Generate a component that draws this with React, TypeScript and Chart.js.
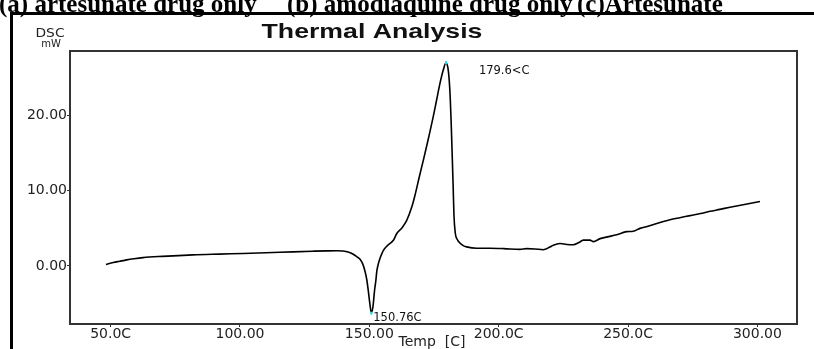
import { useEffect, useRef } from 'react';
import { Chart, registerables } from 'chart.js';

Chart.register(...registerables);

// DSC scan: temperature (°C) and heat flow (mW)
const temperature = [
  48.2, 51, 53.5, 56.2, 59, 62.5, 70, 81.8, 92, 101.2, 110, 120.5, 128, 133.5, 137.5,
  139.8, 141.8, 143.8, 145.2, 146.4, 147.4, 148.3, 149.0, 149.6, 150.2, 150.76, 151.4,
  152.0, 152.5, 152.9, 153.5, 154.1, 154.8, 155.5, 157, 159.3, 160.6, 162.5, 164.4, 166.4,
  167.6, 169.3, 171, 172.7, 174.7, 176.0, 177.3, 178.6, 179.6, 180.4, 180.9, 181.3, 181.6,
  182.0, 182.4, 182.7, 183.2, 184.0, 185.0, 186.3, 187.6, 191.5, 196.6, 202, 208.2, 210.8,
  214, 217.2, 219.8, 221.1, 223.7, 226.3, 228.8, 231, 232.7, 235.3, 236.6, 239.2, 242,
  245.6, 249.5, 252.0, 254.6, 258, 261.1, 266.2, 270, 274.0, 278, 281.7, 285.5, 289.4,
  295, 301.0,
];
const heatFlow = [
  0.2, 0.45, 0.62, 0.8, 0.95, 1.1, 1.27, 1.47, 1.57, 1.65, 1.74, 1.87, 1.95, 2.0, 2.02,
  1.98, 1.85, 1.55, 1.2, 0.9, 0.3, -0.67, -1.8, -3.3, -5.0, -6.2, -5.4, -3.3, -2.0, -0.67,
  0.3, 1.0, 1.6, 2.1, 2.7, 3.4, 4.3, 5.0, 6.0, 7.8, 9.3, 11.8, 14.2, 16.7, 19.8, 22.0, 24.2,
  26.0, 26.9, 26.2, 24.5, 22.0, 19.3, 15.0, 10.5, 6.8, 4.4, 3.5, 3.05, 2.7, 2.53, 2.35,
  2.35, 2.3, 2.2, 2.3, 2.25, 2.15, 2.5, 2.75, 2.97, 2.85, 2.8, 3.1, 3.42, 3.42, 3.22, 3.62,
  3.85, 4.13, 4.55, 4.6, 4.98, 5.3, 5.64, 6.13, 6.4, 6.67, 6.95, 7.24, 7.5, 7.78, 8.15,
  8.55,
];

const xTickValues = [50, 100, 150, 200, 250, 300];
const xTickLabels = ['50.0C', '100.00', '150.00', '200.0C', '250.0C', '300.00'];
const yTickValues = [0, 10, 20];
const yTickLabels = ['0.00', '10.00', '20.00'];

// peak / trough readouts
const peakLabel = '179.6<C';
const troughLabel = '150.76C';

const captionParts = [
  { text: '(a) artesunate drug only', x: -1 },
  { text: '(b) amodiaquine drug only', x: 287 },
  { text: '(c)Artesunate', x: 577 },
];

const chartTitle = 'Thermal Analysis';
const yUnitTop = 'DSC';
const yUnitBottom = 'mW';
const xAxisTitle = 'Temp  [C]';

const decorations = {
  id: 'dscDecorations',
  afterDraw(chart: any) {
    const { ctx, chartArea, scales } = chart;
    const xs = scales.x;
    const ys = scales.y;
    ctx.save();

    // caption strip along the top edge
    ctx.fillStyle = '#000';
    ctx.font = 'bold 25px "Liberation Serif", serif';
    ctx.textBaseline = 'alphabetic';
    ctx.textAlign = 'left';
    for (const p of captionParts) ctx.fillText(p.text, p.x, 12);

    // outer panel edges
    ctx.fillRect(10, 12, 804, 3);
    ctx.fillRect(10, 12, 3, 337);

    // plot frame
    ctx.strokeStyle = '#333';
    ctx.lineWidth = 2;
    ctx.strokeRect(chartArea.left, chartArea.top, chartArea.right - chartArea.left, chartArea.bottom - chartArea.top);

    // title
    ctx.save();
    ctx.font = 'bold 21px "Liberation Sans", Arial, sans-serif';
    ctx.fillStyle = '#111';
    ctx.textAlign = 'center';
    ctx.translate(372, 38);
    ctx.scale(1.27, 1);
    ctx.fillText(chartTitle, 0, 0);
    ctx.restore();

    // y units
    ctx.fillStyle = '#222';
    ctx.textAlign = 'center';
    ctx.save();
    ctx.translate(50, 37);
    ctx.scale(1.15, 1);
    ctx.font = '12px "DejaVu Sans", sans-serif';
    ctx.fillText(yUnitTop, 0, 0);
    ctx.restore();
    ctx.font = '10px "DejaVu Sans", sans-serif';
    ctx.fillText(yUnitBottom, 51, 47);

    // x axis title
    ctx.font = '14px "DejaVu Sans", sans-serif';
    ctx.fillStyle = '#222';
    ctx.fillText(xAxisTitle, 432, 346);

    // peak and trough markers
    let iMax = 0;
    let iMin = 0;
    heatFlow.forEach((v, i) => {
      if (v > heatFlow[iMax]) iMax = i;
      if (v < heatFlow[iMin]) iMin = i;
    });
    const px = xs.getPixelForValue(temperature[iMax]);
    const py = ys.getPixelForValue(heatFlow[iMax]);
    const qx = xs.getPixelForValue(temperature[iMin]);
    const qy = ys.getPixelForValue(heatFlow[iMin]);
    ctx.fillStyle = '#19e0e8';
    ctx.fillRect(px - 1, py - 2, 2, 3);
    ctx.fillRect(qx - 1, qy - 1, 2, 3);
    ctx.fillStyle = '#111';
    ctx.textAlign = 'left';
    ctx.font = '11.5px "DejaVu Sans", sans-serif';
    ctx.fillText(peakLabel, px + 33, py + 11);
    ctx.fillText(troughLabel, qx + 2, qy + 8);

    ctx.restore();
  },
};

export default function App() {
  const canvasRef = useRef<HTMLCanvasElement | null>(null);

  useEffect(() => {
    const canvas = canvasRef.current;
    if (!canvas) return;
    const chart = new Chart(canvas, {
      type: 'line',
      data: {
        datasets: [
          {
            data: temperature.map((t, i) => ({ x: t, y: heatFlow[i] })),
            borderColor: '#000',
            borderWidth: 1.6,
            pointRadius: 0,
            cubicInterpolationMode: 'monotone',
            fill: false,
          },
        ],
      },
      options: {
        responsive: false,
        animation: false,
        devicePixelRatio: 1,
        layout: { padding: { left: 0, top: 51, right: 17, bottom: 0 } },
        plugins: { legend: { display: false }, tooltip: { enabled: false }, title: { display: false } },
        scales: {
          x: {
            type: 'linear',
            min: 34.3,
            max: 315.3,
            afterFit: (s: any) => { s.height = 25; },
            afterBuildTicks: (s: any) => { s.ticks = xTickValues.map((v) => ({ value: v })); },
            grid: { display: true, drawOnChartArea: false, tickLength: 3, color: '#333' },
            border: { display: true, color: '#333', width: 2 },
            ticks: {
              padding: -1,
              maxRotation: 0,
              autoSkip: false,
              color: '#222',
              font: { family: '"DejaVu Sans", sans-serif', size: 14 },
              callback: (v: any) => xTickLabels[xTickValues.indexOf(Number(v))] ?? '',
            },
          },
          y: {
            type: 'linear',
            min: -7.7,
            max: 28.5,
            afterFit: (s: any) => { s.width = 70; },
            afterBuildTicks: (s: any) => { s.ticks = yTickValues.map((v) => ({ value: v })); },
            grid: { display: true, drawOnChartArea: false, tickLength: 3, color: '#333' },
            border: { display: true, color: '#333', width: 2 },
            ticks: {
              padding: 0,
              autoSkip: false,
              color: '#222',
              font: { family: '"DejaVu Sans", sans-serif', size: 14 },
              callback: (v: any) => yTickLabels[yTickValues.indexOf(Number(v))] ?? '',
            },
          },
        },
      },
      plugins: [decorations],
    } as any);
    return () => chart.destroy();
  }, []);

  return (
    <div style={{ position: 'absolute', left: 0, top: 0, width: 814, height: 349, background: '#fff' }}>
      <canvas ref={canvasRef} width={814} height={349} style={{ display: 'block' }} />
    </div>
  );
}
